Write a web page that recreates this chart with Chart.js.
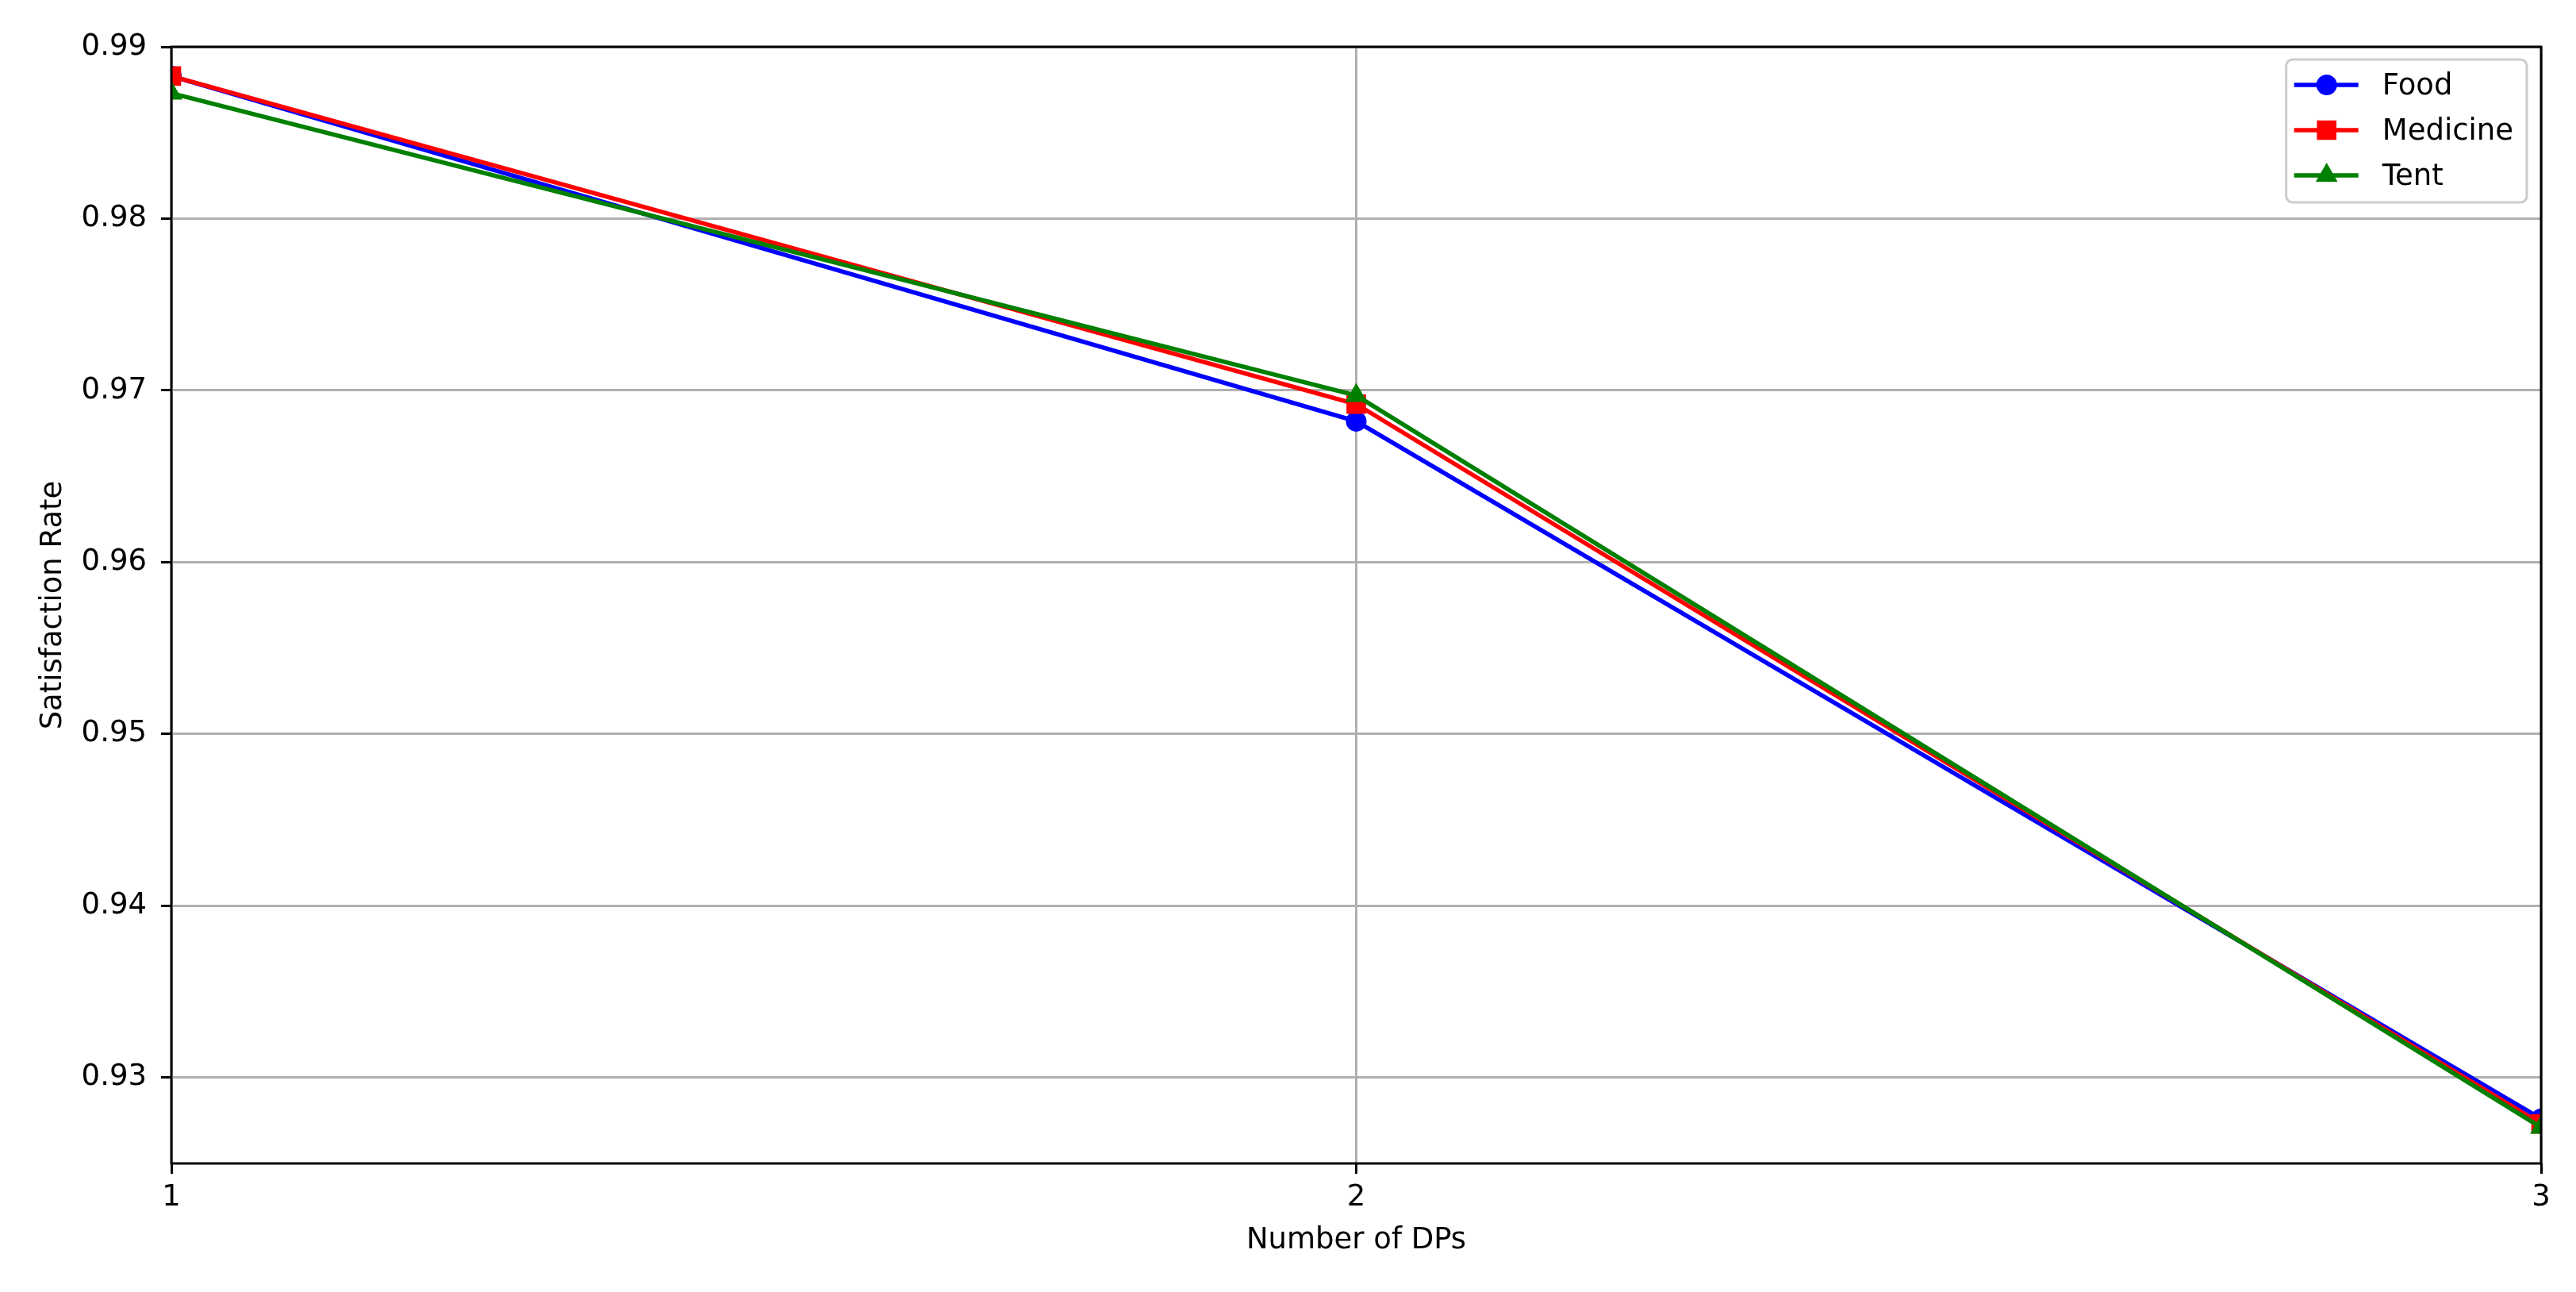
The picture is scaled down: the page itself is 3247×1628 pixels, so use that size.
<!DOCTYPE html>
<html>
<head>
<meta charset="utf-8">
<script src="https://cdn.jsdelivr.net/npm/chart.js@4.4.1/dist/chart.umd.min.js"></script>
<style>
    html, body { margin: 0; padding: 0; background: #fff; }
    #wrap { width: 3247px; height: 1628px; }
</style>
</head>
<body>
<div id="wrap"><canvas id="chart" width="3247" height="1628"></canvas></div>
<script>
// values
const dpCounts = [1, 2, 3];
const foodRate = [0.9883, 0.9682, 0.9276];
const medicineRate = [0.9883, 0.9692, 0.9273];
const tentRate = [0.9873, 0.9697, 0.9271];
const xTicks = [1, 2, 3];
const yTicks = [0.93, 0.94, 0.95, 0.96, 0.97, 0.98, 0.99];

const FONT = "'DejaVu Sans', 'Liberation Sans', sans-serif";
const FS = 37;

function points(ys) {
    return dpCounts.map(function (x, i) { return { x: x, y: ys[i] }; });
}

function series(label, ys, color, style, radius, order) {
    return {
        label: label,
        data: points(ys),
        borderColor: color,
        backgroundColor: color,
        pointBackgroundColor: color,
        pointBorderColor: color,
        borderWidth: 5.5,
        pointStyle: style,
        pointRadius: radius,
        pointBorderWidth: 2,
        tension: 0,
        clip: 0,
        order: order,
    };
}

// top and right spines over the lines, like matplotlib
const frame = {
    id: "frame",
    afterDatasetsDraw(chart) {
        const { ctx, chartArea: a } = chart;
        ctx.save();
        ctx.strokeStyle = "#000";
        ctx.lineWidth = 3;
        ctx.strokeRect(a.left, a.top, a.right - a.left, a.bottom - a.top);
        ctx.restore();
    },
};

const legendBox = {
    id: "legendBox",
    afterDraw(chart) {
        const { ctx, chartArea: a } = chart;
        const sets = chart.data.datasets;
        ctx.save();
        ctx.font = FS + "px " + FONT;
        const maxW = Math.max.apply(null, sets.map(function (d) { return ctx.measureText(d.label).width; }));
        const w = 10 + 81 + 30 + maxW + 17;
        const h = 180;
        const x0 = a.right - 18 - w;
        const y0 = a.top + 16;
        ctx.beginPath();
        if (ctx.roundRect) ctx.roundRect(x0, y0, w, h, 8); else ctx.rect(x0, y0, w, h);
        ctx.fillStyle = "rgba(255,255,255,0.8)";
        ctx.fill();
        ctx.strokeStyle = "#cccccc";
        ctx.lineWidth = 3;
        ctx.stroke();
        sets.forEach(function (d, i) {
            const cy = y0 + 32 + i * 57;
            ctx.strokeStyle = d.borderColor;
            ctx.lineWidth = d.borderWidth;
            ctx.beginPath();
            ctx.moveTo(x0 + 10, cy);
            ctx.lineTo(x0 + 91, cy);
            ctx.stroke();
            ctx.fillStyle = d.pointBackgroundColor;
            ctx.strokeStyle = d.pointBorderColor;
            ctx.lineWidth = d.pointBorderWidth;
            Chart.helpers.drawPoint(ctx, {
                pointStyle: d.pointStyle,
                radius: d.pointRadius,
                borderWidth: d.pointBorderWidth,
                rotation: 0,
            }, x0 + 51, cy);
            ctx.fillStyle = "#000";
            ctx.textAlign = "left";
            ctx.textBaseline = "middle";
            ctx.fillText(d.label, x0 + 121, cy + 2);
        });
        ctx.restore();
    },
};

new Chart(document.getElementById("chart").getContext("2d"), {
    type: "line",
    data: {
        datasets: [
            series("Food", foodRate, "#0000ff", "circle", 12, 3),
            series("Medicine", medicineRate, "#ff0000", "rect", 16, 2),
            series("Tent", tentRate, "#008000", "triangle", 14, 1),
        ],
    },
    options: {
        responsive: false,
        animation: false,
        devicePixelRatio: 1,
        layout: { padding: { left: 0, top: 59, right: 44, bottom: 0 } },
        font: { family: FONT, size: FS },
        plugins: {
            legend: { display: false },
            tooltip: { enabled: false },
        },
        scales: {
            x: {
                type: "linear",
                min: 1,
                max: 3,
                afterBuildTicks: function (s) { s.ticks = xTicks.map(function (v) { return { value: v }; }); },
                afterFit: function (s) { s.height = 162; },
                ticks: {
                    color: "#000",
                    font: { family: FONT, size: FS },
                    padding: 8,
                    maxRotation: 0,
                    callback: function (v) { return String(v); },
                },
                grid: { color: "#b0b0b0", lineWidth: 3, tickColor: "#000", tickWidth: 3, tickLength: 13 },
                border: { display: false },
                title: {
                    display: true,
                    text: "Number of DPs",
                    color: "#000",
                    font: { family: FONT, size: FS },
                    padding: { top: 0, bottom: 42 },
                },
            },
            y: {
                type: "linear",
                min: 0.925,
                max: 0.99,
                afterBuildTicks: function (s) { s.ticks = yTicks.map(function (v) { return { value: v }; }); },
                afterFit: function (s) { s.width = 216; },
                ticks: {
                    color: "#000",
                    font: { family: FONT, size: FS },
                    padding: 18,
                    callback: function (v) { return Number(v).toFixed(2); },
                },
                grid: { color: "#b0b0b0", lineWidth: 3, tickColor: "#000", tickWidth: 3, tickLength: 13 },
                border: { display: false },
                title: {
                    display: true,
                    text: "Satisfaction Rate",
                    color: "#000",
                    font: { family: FONT, size: FS },
                    padding: { top: 45, bottom: 0 },
                },
            },
        },
    },
    plugins: [frame, legendBox],
});
</script>
</body>
</html>
